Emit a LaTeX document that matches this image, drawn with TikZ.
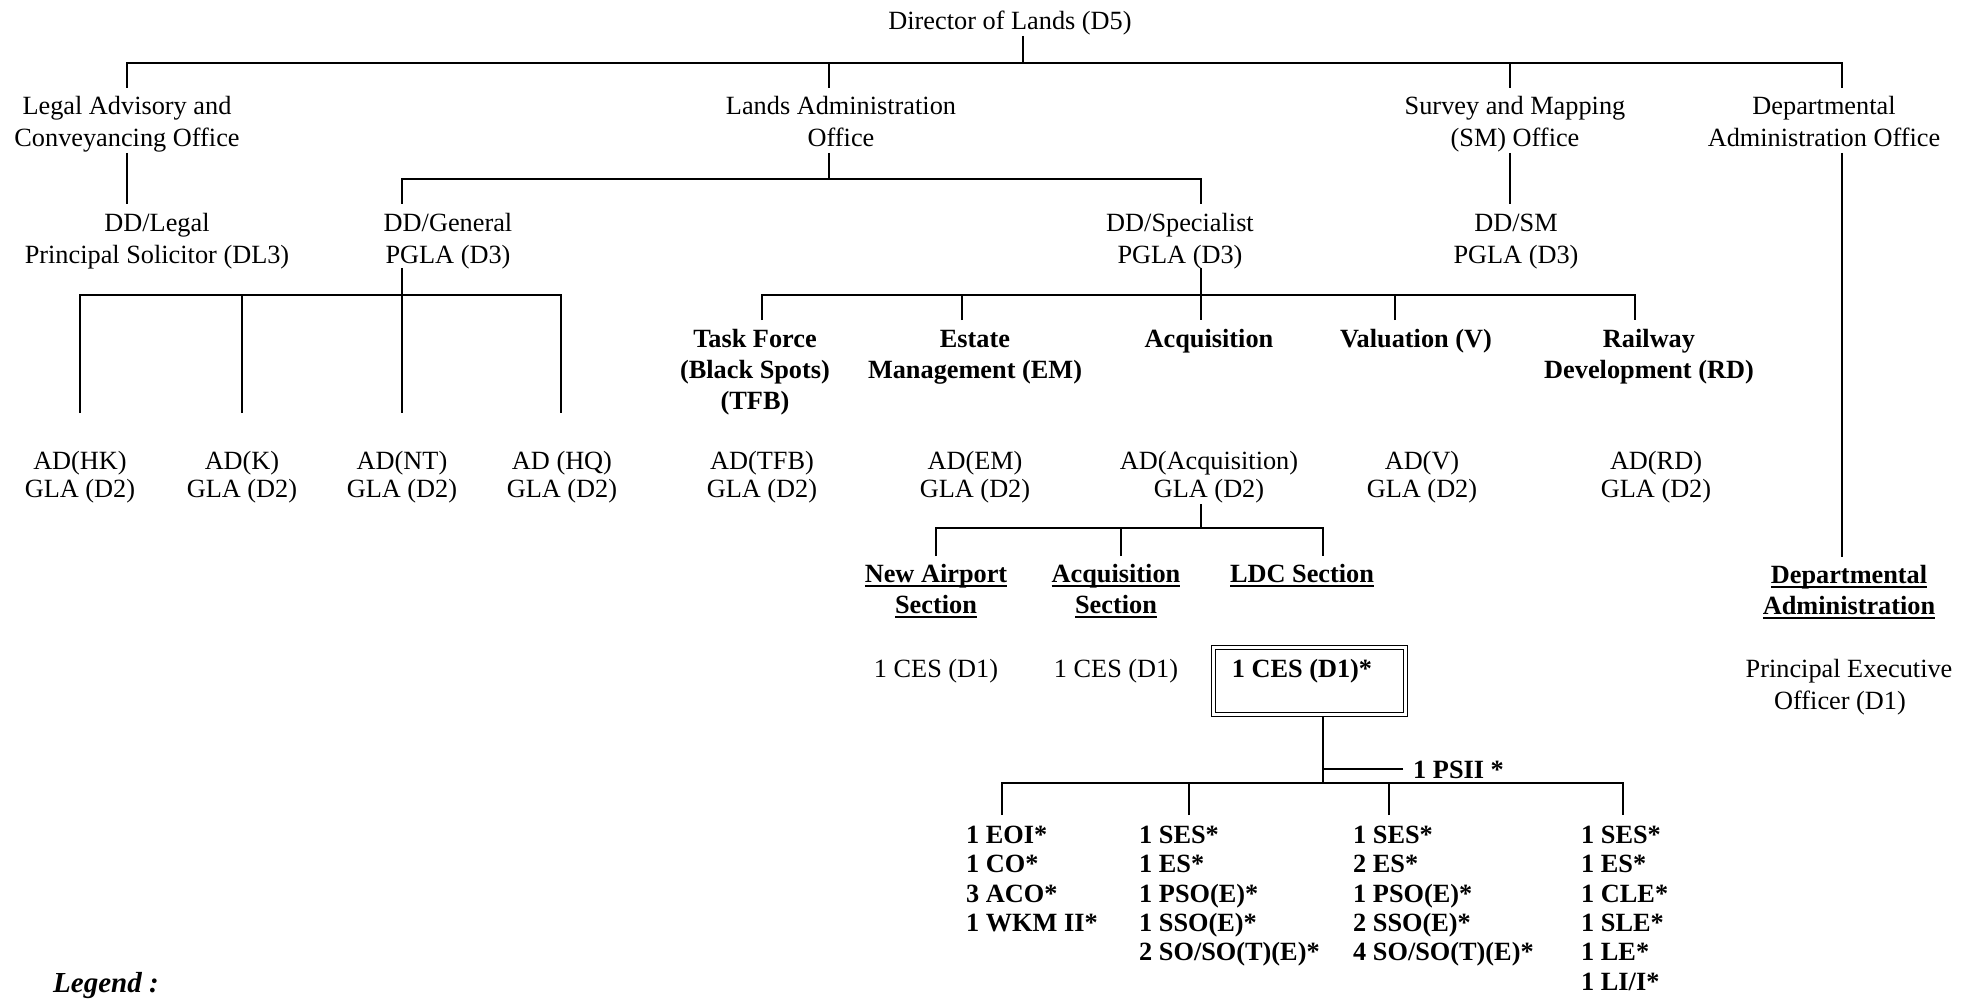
\documentclass[tikz,border=0pt]{standalone}
\usepackage{fontspec}
\setmainfont{Liberation Serif}
\newcommand\fst{\rule{0pt}{21pt}}
\newcommand\myul[1]{\setbox0\hbox{#1}\rlap{\rule[-4.5pt]{\wd0}{2pt}}\box0}
\begin{document}
\begin{tikzpicture}[x=1pt,y=-1pt,
  ln/.style={line width=2pt},
  txt/.style={inner sep=0pt, align=center, font=\fontsize{26.3}{32}\selectfont},
  adt/.style={inner sep=0pt, align=center, font=\fontsize{26.3}{28}\selectfont},
  hd/.style={inner sep=0pt, align=center, font=\fontsize{26.3}{31}\selectfont\bfseries},
  lst/.style={inner sep=0pt, align=left, anchor=north west, font=\fontsize{26.3}{29.4}\selectfont\bfseries},
  dbox/.style={draw, double, double distance=2.4pt, line width=1.6pt, minimum width=192pt, minimum height=67pt, inner sep=0pt}
]
\useasboundingbox (0,0) rectangle (1972,1000);

% ---------- nodes ----------
\node[txt, anchor=base] (dir) at (1010,30) {Director of Lands (D5)};

\node[txt, anchor=north] (legal)  at (127,93)  {\fst Legal Advisory and\\Conveyancing Office};
\node[txt, anchor=north] (lands)  at (841,93)  {\fst Lands Administration\\Office};
\node[txt, anchor=north] (survey) at (1515,93) {\fst Survey and Mapping\\(SM) Office};
\node[txt, anchor=north] (dao)    at (1824,93) {\fst Departmental\\Administration Office};

\node[txt, anchor=north] (ddlegal) at (157,210)  {\fst DD/Legal\\Principal Solicitor (DL3)};
\node[txt, anchor=north] (ddgen)   at (448,210)  {\fst DD/General\\PGLA (D3)};
\node[txt, anchor=north] (ddspec)  at (1180,210) {\fst DD/Specialist\\PGLA (D3)};
\node[txt, anchor=north] (ddsm)    at (1516,210) {\fst DD/SM\\PGLA (D3)};

\node[hd, anchor=north] (tf)  at (755,326)  {\fst Task Force\\(Black Spots)\\(TFB)};
\node[hd, anchor=north] (em)  at (975,326)  {\fst Estate\\Management (EM)};
\node[hd, anchor=north] (acq) at (1209,326) {\fst Acquisition};
\node[hd, anchor=north] (val) at (1416,326) {\fst Valuation (V)};
\node[hd, anchor=north] (rd)  at (1649,326) {\fst Railway\\Development (RD)};

\node[adt, anchor=north] (adhk)  at (80,448)   {\fst AD(HK)\\GLA (D2)};
\node[adt, anchor=north] (adk)   at (242,448)  {\fst AD(K)\\GLA (D2)};
\node[adt, anchor=north] (adnt)  at (402,448)  {\fst AD(NT)\\GLA (D2)};
\node[adt, anchor=north] (adhq)  at (562,448)  {\fst AD (HQ)\\GLA (D2)};
\node[adt, anchor=north] (adtfb) at (762,448)  {\fst AD(TFB)\\GLA (D2)};
\node[adt, anchor=north] (adem)  at (975,448)  {\fst AD(EM)\\GLA (D2)};
\node[adt, anchor=north] (adacq) at (1209,448) {\fst AD(Acquisition)\\GLA (D2)};
\node[adt, anchor=north] (adv)   at (1422,448) {\fst AD(V)\\GLA (D2)};
\node[adt, anchor=north] (adrd)  at (1656,448) {\fst AD(RD)\\GLA (D2)};

\node[hd, anchor=north] (na)   at (936,561)  {\fst\myul{New Airport}\\\myul{Section}};
\node[hd, anchor=north] (asec) at (1116,561) {\fst\myul{Acquisition}\\\myul{Section}};
\node[hd, anchor=north] (ldc)  at (1302,561) {\fst\myul{LDC Section}};
\node[hd, anchor=north] (dadm) at (1849,562) {\fst\myul{Departmental}\\\myul{Administration}};

\node[txt, anchor=base] (ces1) at (936,677)  {1 CES (D1)};
\node[txt, anchor=base] (ces2) at (1116,677) {1 CES (D1)};
\node[dbox] (ldcbox) at (1309.5,681) {};
\node[hd, anchor=base] (ces3) at (1302,677) {1 CES (D1)*};
\node[txt, anchor=north] (peo) at (1849,656) {\fst Principal Executive\\Officer (D1)\hspace*{18pt}};

\node[hd, anchor=base west] (psii) at (1413,778) {1 PSII *};

\node[lst] (l1) at (966,822)  {\fst 1 EOI*\\1 CO*\\3 ACO*\\1 WKM II*};
\node[lst] (l2) at (1139,822) {\fst 1 SES*\\1 ES*\\1 PSO(E)*\\1 SSO(E)*\\2 SO/SO(T)(E)*};
\node[lst] (l3) at (1353,822) {\fst 1 SES*\\2 ES*\\1 PSO(E)*\\2 SSO(E)*\\4 SO/SO(T)(E)*};
\node[lst] (l4) at (1581,822) {\fst 1 SES*\\1 ES*\\1 CLE*\\1 SLE*\\1 LE*\\1 LI/I*};

\node[anchor=base west, inner sep=0pt, font=\fontsize{29}{32}\selectfont\bfseries\itshape] (legend) at (53,992) {Legend :};

% ---------- connector points ----------
\coordinate (j1) at (1023,63);
\coordinate (legal-in) at (127,88);
\coordinate (lands-in) at (829,88);
\coordinate (survey-in) at (1510,88);
\coordinate (dao-in) at (1842,88);

\coordinate (legal-out) at (127,153);
\coordinate (ddlegal-in) at (127,204);
\coordinate (lands-out) at (829,153);
\coordinate (j2) at (829,179);
\coordinate (ddgen-in) at (402,204);
\coordinate (ddspec-in) at (1201,204);
\coordinate (survey-out) at (1510,153);
\coordinate (ddsm-in) at (1510,204);
\coordinate (dao-out) at (1842,153);
\coordinate (dadm-in) at (1842,557);

\coordinate (ddgen-out) at (402,268);
\coordinate (j3) at (402,295);
\coordinate (adhk-in) at (80,413);
\coordinate (adk-in) at (242,413);
\coordinate (adnt-in) at (402,413);
\coordinate (adhq-in) at (561,413);

\coordinate (ddspec-out) at (1201,268);
\coordinate (j4) at (1201,295);
\coordinate (tf-in) at (762,320);
\coordinate (em-in) at (962,320);
\coordinate (acq-in) at (1201,320);
\coordinate (val-in) at (1395,320);
\coordinate (rd-in) at (1635,320);

\coordinate (adacq-out) at (1201,504);
\coordinate (j5) at (1201,528);
\coordinate (na-in) at (936,556);
\coordinate (asec-in) at (1121,556);
\coordinate (ldc-in) at (1323,556);

\coordinate (box-out) at (1323,717);
\coordinate (j6) at (1323,783);
\coordinate (l1-in) at (1002,815);
\coordinate (l2-in) at (1189,815);
\coordinate (l3-in) at (1389,815);
\coordinate (l4-in) at (1623,815);

% ---------- connectors ----------
\draw[ln] (dir.south -| j1) -- (j1);
\draw[ln] (legal-in) |- (j1) -| (dao-in);
\draw[ln] (lands-in) -- (lands-in |- j1);
\draw[ln] (survey-in) -- (survey-in |- j1);

\draw[ln] (legal-out) -- (ddlegal-in);
\draw[ln] (lands-out) -- (j2);
\draw[ln] (ddgen-in) |- (j2) -| (ddspec-in);
\draw[ln] (survey-out) -- (ddsm-in);
\draw[ln] (dao-out) -- (dadm-in);

\draw[ln] (ddgen-out) -- (adnt-in);
\draw[ln] (adhk-in) |- (j3) -| (adhq-in);
\draw[ln] (adk-in) -- (adk-in |- j3);

\draw[ln] (ddspec-out) -- (acq-in);
\draw[ln] (tf-in) |- (j4) -| (rd-in);
\draw[ln] (em-in) -- (em-in |- j4);
\draw[ln] (val-in) -- (val-in |- j4);

\draw[ln] (adacq-out) -- (j5);
\draw[ln] (na-in) |- (j5) -| (ldc-in);
\draw[ln] (asec-in) -- (asec-in |- j5);

\draw[ln] (box-out) -- (j6);
\draw[ln] ([xshift=-10pt]psii.west) -- ++(-80,0);
\draw[ln] (l1-in) |- (j6) -| (l4-in);
\draw[ln] (l2-in) -- (l2-in |- j6);
\draw[ln] (l3-in) -- (l3-in |- j6);
\end{tikzpicture}
\end{document}
